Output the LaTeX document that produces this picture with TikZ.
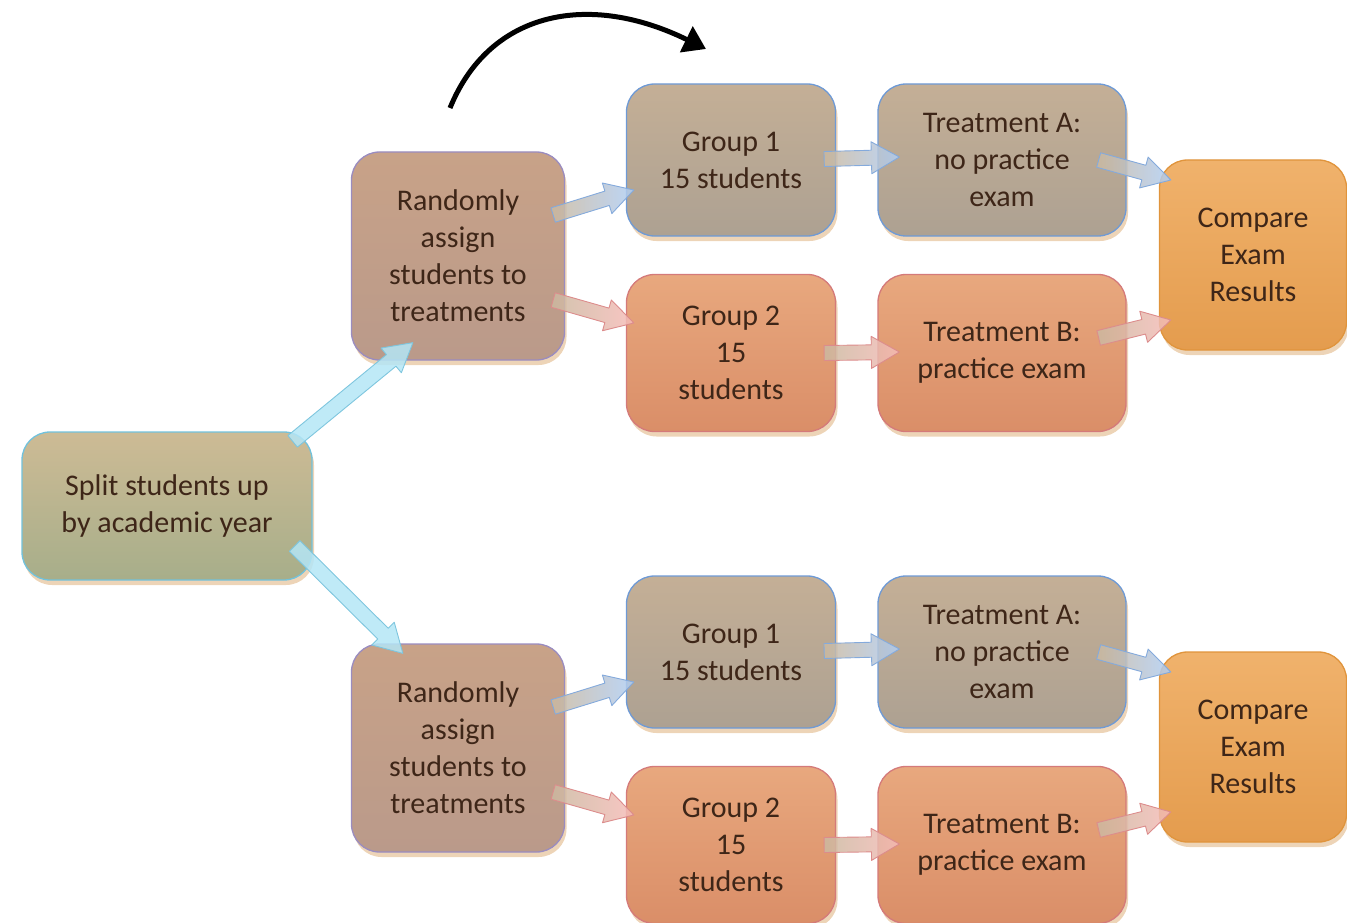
\documentclass[tikz,border=0pt]{standalone}
\usepackage{fontspec}
\setmainfont{Carlito}
\usetikzlibrary{calc,arrows.meta,shadows}
\definecolor{txt}{HTML}{3E2618}
\definecolor{splitT}{HTML}{CDBB95}\definecolor{splitB}{HTML}{A7AE8A}\definecolor{splitD}{HTML}{72C2DC}
\definecolor{randT}{HTML}{C8A288}\definecolor{randB}{HTML}{BA9A8A}\definecolor{randD}{HTML}{9A8CC0}
\definecolor{bluT}{HTML}{C4AF96}\definecolor{bluB}{HTML}{ADA192}\definecolor{bluD}{HTML}{6E9AD6}
\definecolor{redT}{HTML}{E8A87E}\definecolor{redB}{HTML}{DA8E68}\definecolor{redD}{HTML}{D47A7A}
\definecolor{cmpT}{HTML}{F0B26C}\definecolor{cmpB}{HTML}{E49C4E}\definecolor{cmpD}{HTML}{E0943C}
\definecolor{tailC}{HTML}{CBB9A0}
\definecolor{arBlue}{HTML}{B0CEF4}\definecolor{arBlueD}{HTML}{84AADC}
\definecolor{arRed}{HTML}{F6BCB8}\definecolor{arRedD}{HTML}{DC8C8C}
\definecolor{arCyan}{HTML}{B4E6F6}\definecolor{arCyanD}{HTML}{7EC6DE}
\definecolor{shd}{HTML}{D8A060}
\newcommand{\fatarr}[3]{%
  \path[#3] ($(#1)!7.5pt!90:(#2)$) -- ($(#2)!28pt!(#1)!7.5pt!90:(#2)$) -- ($(#2)!28pt!(#1)!16pt!90:(#2)$)
    -- (#2) -- ($(#2)!28pt!(#1)!16pt!-90:(#2)$) -- ($(#2)!28pt!(#1)!7.5pt!-90:(#2)$)
    -- ($(#1)!7.5pt!-90:(#2)$) -- cycle;}
\tikzset{
  box/.style={rounded corners=28pt, line width=1.3pt, text=txt, align=center,
    font=\fontsize{30}{37}\selectfont,
    drop shadow={shadow xshift=2pt, shadow yshift=-5pt, fill=shd, opacity=0.45}},
  splitbox/.style={box, draw=splitD, top color=splitT, bottom color=splitB, minimum width=290pt, minimum height=148pt},
  randbox/.style={box, draw=randD, top color=randT, bottom color=randB, minimum width=213pt, minimum height=208pt},
  blubox/.style={box, draw=bluD, top color=bluT, bottom color=bluB, minimum height=152pt},
  redbox/.style={box, draw=redD, top color=redT, bottom color=redB, minimum height=157pt},
  cmpbox/.style={box, draw=cmpD, top color=cmpT, bottom color=cmpB, minimum width=187pt, minimum height=190pt},
  grpw/.style={minimum width=209pt},
  trtw/.style={minimum width=248pt},
  arrbase/.style={line width=0.9pt, fill opacity=0.85, line join=round},
  barr/.style={arrbase, draw=arBlueD, left color=tailC, right color=arBlue},
  rarr/.style={arrbase, draw=arRedD, left color=tailC, right color=arRed},
  carr/.style={arrbase, draw=arCyanD, left color=arCyan, right color=arCyan},
}
\begin{document}
\begin{tikzpicture}[x=1pt,y=-1pt]
\useasboundingbox (0,0) rectangle (1347,923);
% nodes
\node[splitbox] (split) at (167,506) {Split students up\\by academic year};
\foreach \s/\dy in {t/0,b/492}{
  \node[randbox] (r\s) at (458,256+\dy) {Randomly\\assign\\students to\\treatments};
  \node[blubox,grpw] (g1\s) at (731,160+\dy) {Group 1\\15 students};
  \node[redbox,grpw] (g2\s) at (731,353+\dy) {Group 2\\15\\students};
  \node[blubox,trtw] (ta\s) at (1002,160+\dy) {Treatment A:\\no practice\\exam};
  \node[redbox,trtw] (tb\s) at (1002,353+\dy) {Treatment B:\\practice exam};
  \node[cmpbox] (c\s) at (1253,255+\dy) {Compare\\Exam\\Results};
}
% connector end points
\coordinate (s1) at ($(split.north east)+(-20,10)$);
\coordinate (e1) at ($(rt.south west)+(62,-18)$);
\coordinate (s2) at ($(split.east)+(-18,40)$);
\coordinate (e2) at ($(rb.north west)+(52,10)$);
\fatarr{s1}{e1}{carr}
\fatarr{s2}{e2}{carr}
\foreach \s in {t,b}{
  \coordinate (a\s1) at ($(r\s.east)+(-12,-41)$);
  \coordinate (b\s1) at ($(g1\s.west)+(8,30)$);
  \coordinate (a\s2) at ($(r\s.east)+(-12,44)$);
  \coordinate (b\s2) at ($(g2\s.west)+(8,-30)$);
  \coordinate (a\s3) at ($(g1\s.east)+(-12,-1)$);
  \coordinate (b\s3) at ($(ta\s.west)+(22,-3)$);
  \coordinate (a\s4) at ($(g2\s.east)+(-12,0)$);
  \coordinate (b\s4) at ($(tb\s.west)+(22,-1)$);
  \coordinate (a\s5) at ($(ta\s.east)+(-28,0)$);
  \coordinate (b\s5) at ($(c\s.west)+(12,-75)$);
  \coordinate (a\s6) at ($(tb\s.east)+(-28,-15)$);
  \coordinate (b\s6) at ($(c\s.west)+(12,65)$);
  \fatarr{a\s1}{b\s1}{barr}
  \fatarr{a\s2}{b\s2}{rarr}
  \fatarr{a\s3}{b\s3}{barr}
  \fatarr{a\s4}{b\s4}{rarr}
  \fatarr{a\s5}{b\s5}{barr}
  \fatarr{a\s6}{b\s6}{rarr}
}
% curved arrow
\coordinate (cs) at (450,108);
\coordinate (ce) at (706,49);
\draw[line width=5pt, -{Triangle[length=22pt,width=28pt]}] (cs) .. controls (490,10) and (590,-8) .. (ce);
\end{tikzpicture}
\end{document}
